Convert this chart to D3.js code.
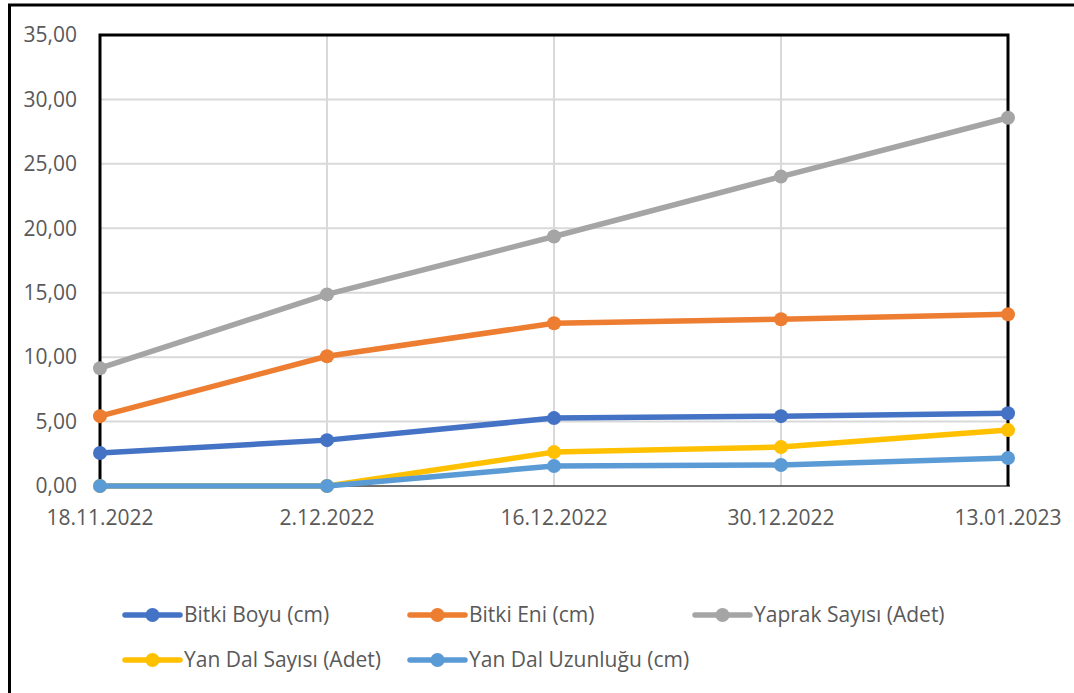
<!DOCTYPE html>
<html>
<head>
<meta charset="utf-8">
<script src="https://cdn.jsdelivr.net/npm/d3@7"></script>
<style>
  body { margin: 0; background: #fff; }
  svg { display: block; }
  text { font-family: "Open Sans", "Noto Sans", sans-serif; fill: #595959; }
</style>
</head>
<body>
<div id="chart"></div>
<script>
var dates = ["18.11.2022", "2.12.2022", "16.12.2022", "30.12.2022", "13.01.2023"];
var yTicks = [0, 5, 10, 15, 20, 25, 30, 35];

var bitkiBoyu = [2.56, 3.56, 5.27, 5.42, 5.65];
var bitkiEni = [5.42, 10.07, 12.63, 12.94, 13.32];
var yaprakSayisi = [9.14, 14.87, 19.36, 24.01, 28.58];
var yanDalSayisi = [0, 0, 2.63, 3.02, 4.34];
var yanDalUzunlugu = [0, 0, 1.55, 1.63, 2.17];

var seriesNames = ["Bitki Boyu (cm)", "Bitki Eni (cm)", "Yaprak Sayısı (Adet)", "Yan Dal Sayısı (Adet)", "Yan Dal Uzunluğu (cm)"];
var seriesColors = ["#4472C4", "#ED7D31", "#A5A5A5", "#FFC000", "#5B9BD5"];
var seriesValues = [bitkiBoyu, bitkiEni, yaprakSayisi, yanDalSayisi, yanDalUzunlugu];

var width = 1074,
    height = 693,
    plotLeft = 100, plotRight = 1008, plotTop = 35, plotBottom = 486,
    fontSize = 21;

var svg = d3.select("#chart").append("svg")
  .attr("width", width)
  .attr("height", height);

// outer frame (only top & left visible in the crop)
svg.append("path")
  .attr("d", "M9.5 " + height + " L9.5 5 L" + width + " 5")
  .attr("fill", "none").attr("stroke", "#000").attr("stroke-width", 3);

var x = d3.scalePoint().domain(dates).range([plotLeft, plotRight]);
var y = d3.scaleLinear().domain([0, 35]).range([plotBottom, plotTop]);

// gridlines
svg.append("g").selectAll("line").data(yTicks.slice(1, -1)).join("line")
  .attr("x1", plotLeft).attr("x2", plotRight)
  .attr("y1", d => y(d)).attr("y2", d => y(d))
  .attr("stroke", "#d9d9d9").attr("stroke-width", 2);
svg.append("g").selectAll("line").data(dates.slice(1, -1)).join("line")
  .attr("x1", d => x(d)).attr("x2", d => x(d))
  .attr("y1", plotTop).attr("y2", plotBottom)
  .attr("stroke", "#d9d9d9").attr("stroke-width", 2);

// bottom axis line
svg.append("line")
  .attr("x1", plotLeft).attr("x2", plotRight + 2)
  .attr("y1", plotBottom).attr("y2", plotBottom)
  .attr("stroke", "#404040").attr("stroke-width", 1.5);

// plot border (left, top, right)
svg.append("path")
  .attr("d", "M" + plotLeft + " " + plotBottom + " L" + plotLeft + " " + plotTop + " L" + plotRight + " " + plotTop + " L" + plotRight + " " + plotBottom)
  .attr("fill", "none").attr("stroke", "#000").attr("stroke-width", 3);

// y labels
svg.append("g").selectAll("text").data(yTicks).join("text")
  .attr("x", 77).attr("y", d => y(d)).attr("dy", "0.35em")
  .attr("text-anchor", "end").attr("font-size", fontSize)
  .text(d => d.toFixed(2).replace(".", ","));

// x labels
svg.append("g").selectAll("text").data(dates).join("text")
  .attr("x", d => x(d)).attr("y", 518).attr("dy", "0.35em")
  .attr("text-anchor", "middle").attr("font-size", fontSize)
  .text(d => d);

// series
var line = d3.line().x((d, i) => x(dates[i])).y(d => y(d));
seriesValues.forEach(function (vals, k) {
  var g = svg.append("g");
  g.append("path").attr("d", line(vals))
    .attr("fill", "none").attr("stroke", seriesColors[k])
    .attr("stroke-width", 5.5).attr("stroke-linejoin", "round").attr("stroke-linecap", "round");
  g.selectAll("circle").data(vals).join("circle")
    .attr("cx", (d, i) => x(dates[i])).attr("cy", d => y(d)).attr("r", 7)
    .attr("fill", seriesColors[k]);
});

// legend
var legendPos = [[125, 615], [410, 615], [695, 615], [125, 660], [410, 660]];
seriesNames.forEach(function (name, k) {
  var p = legendPos[k];
  var g = svg.append("g").attr("transform", "translate(" + p[0] + "," + p[1] + ")");
  g.append("line").attr("x1", 0).attr("x2", 55).attr("y1", 0).attr("y2", 0)
    .attr("stroke", seriesColors[k]).attr("stroke-width", 5.5).attr("stroke-linecap", "round");
  g.append("circle").attr("cx", 27.5).attr("cy", 0).attr("r", 7).attr("fill", seriesColors[k]);
  g.append("text").attr("x", 59).attr("y", 0).attr("dy", "0.35em")
    .attr("font-size", fontSize).text(name);
});
</script>
</body>
</html>
